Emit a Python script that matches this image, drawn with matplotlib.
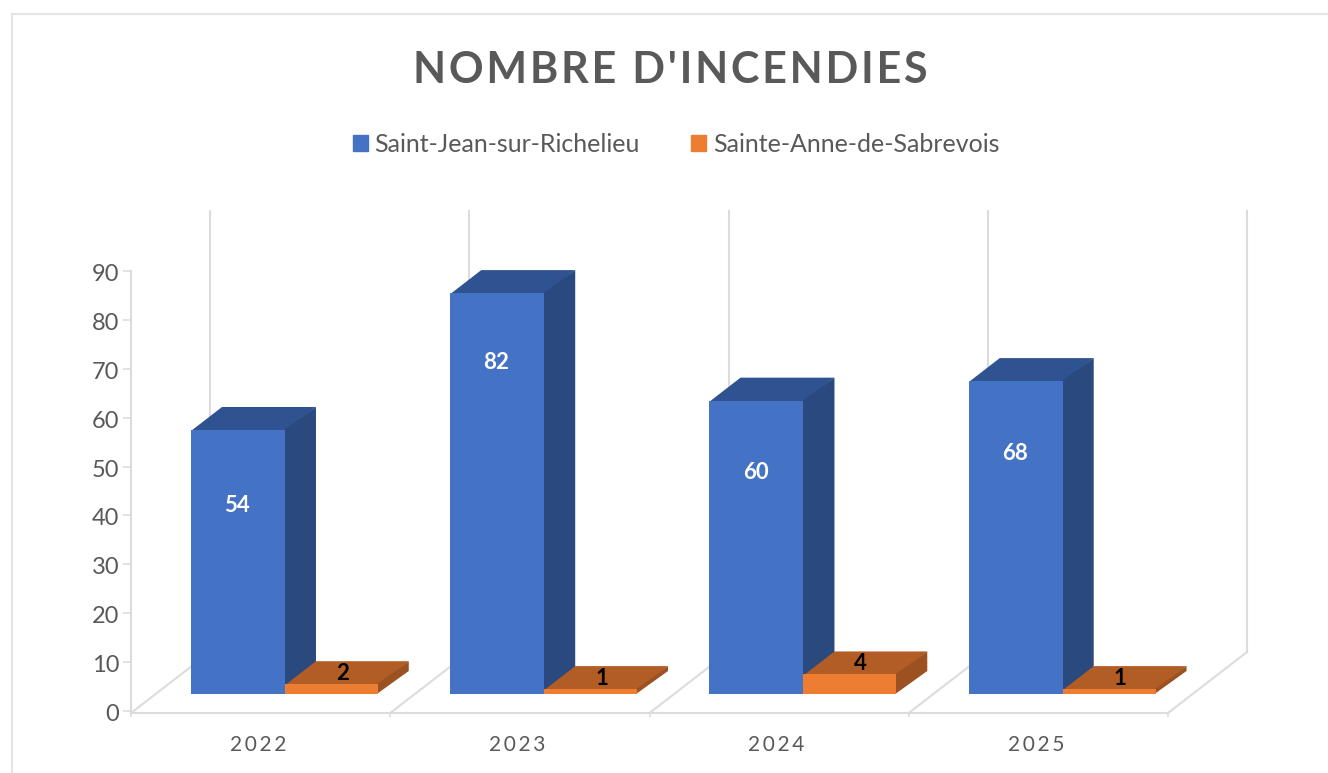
import matplotlib
matplotlib.use('Agg')
import matplotlib.pyplot as plt
from matplotlib.lines import Line2D
from matplotlib.patches import Patch, Polygon
from matplotlib.transforms import Affine2D

plt.rcParams['font.family'] = ['Lato', 'DejaVu Sans']

years = ['2022', '2023', '2024', '2025']
jean_heights = [54, 82, 60, 64]  # the 2025 bar is drawn lower than its label says
jean_labels = ['54', '82', '60', '68']
anne_values = [2, 1, 4, 1]
anne_labels = ['2', '1', '4', '1']
y_ticks = [0, 10, 20, 30, 40, 50, 60, 70, 80, 90]
series_names = ['Saint-Jean-sur-Richelieu', 'Sainte-Anne-de-Sabrevois']

W, H = 1328, 773
GRID = '#dcdcdc'
TEXT = '#595959'

fig = plt.figure(figsize=(W / 100, H / 100), dpi=100)
ax = fig.add_axes([131 / W, 1 - 711 / H, (1168 - 131) / W, (711 - 271) / H])
ax.set_xlim(0, 4)
ax.set_ylim(0, 90)
ax.patch.set_alpha(0)

# outer frame of the screenshot
fig.add_artist(Line2D([12 / W, 1], [1 - 13.5 / H, 1 - 13.5 / H], color='#e4e4e4', lw=1.6))
fig.add_artist(Line2D([12 / W, 12 / W], [0, 1 - 13.5 / H], color='#e4e4e4', lw=1.6))

BAR_W = 0.3626
ANNE_W = 0.358
BAR_OFF = 0.2313
LIFT = 17    # front face sits above the floor edge
DX, DY = 31, 23  # bar depth in pixels
FLOOR_DX, FLOOR_DY = 79, 61
label_drop = [75, 69, 72, 72]  # the labels were placed by hand in the original


def px(x, y):
    return ax.transData.transform((x, y))


def box(x, width, height, front, top, side):
    # depth faces in pixels first, the front through the axes goes over their seam
    x0, y1 = px(x, height)
    x1 = px(x + width, height)[0]
    y0 = px(x, 0)[1] + LIFT
    y1 += LIFT
    ax.add_patch(Polygon([(x0, y1 - 1), (x1, y1 - 1), (x1 + DX, y1 + DY), (x0 + DX, y1 + DY)],
                         closed=True, color=top, lw=0, transform=None, zorder=3, clip_on=False))
    ax.add_patch(Polygon([(x1 - 1, y0), (x1 + DX, y0 + DY), (x1 + DX, y1 + DY), (x1 - 1, y1)],
                         closed=True, color=side, lw=0, transform=None, zorder=3, clip_on=False))
    lift = ax.transData + Affine2D().translate(0, LIFT)
    ax.bar(x, height, width, align='edge', color=front, transform=lift, zorder=3)


# floor edges and back wall uprights
for k in range(5):
    bx, by = px(k, 0)
    by -= 2
    ax.add_line(Line2D([bx, bx + FLOOR_DX], [by, by + FLOOR_DY], color=GRID, lw=1.5,
                       transform=None, zorder=1, clip_on=False))
    ax.add_line(Line2D([bx + FLOOR_DX, bx + FLOOR_DX], [by + FLOOR_DY, H - 211], color=GRID, lw=1.5,
                       transform=None, zorder=1, clip_on=False))

for i in range(4):
    x_jean = i + BAR_OFF
    x_anne = x_jean + BAR_W
    box(x_jean, BAR_W, jean_heights[i], '#4472c4', '#2f5291', '#2a4a7f')
    box(x_anne, ANNE_W, anne_values[i], '#ed7d31', '#b25d25', '#9c5220')
    ax.annotate(jean_labels[i], (x_jean + BAR_W / 2, jean_heights[i]), xytext=(-1, LIFT - label_drop[i]),
                textcoords='offset pixels', ha='center', va='center', color='white',
                fontsize=16, fontweight='bold', zorder=5)
    ax.annotate(anne_labels[i], (x_anne + ANNE_W / 2, anne_values[i]), xytext=(11, LIFT + 11),
                textcoords='offset pixels', ha='center', va='center', color='black',
                fontsize=16, fontweight='bold', zorder=5, annotation_clip=False)

for side in ['top', 'right']:
    ax.spines[side].set_visible(False)
ax.spines['left'].set_color(GRID)
ax.spines['bottom'].set_color(GRID)
ax.spines['left'].set_linewidth(1.5)
ax.spines['bottom'].set_linewidth(1.5)
ax.spines['bottom'].set_position(('outward', 1.5))

ax.set_yticks(y_ticks)
ax.tick_params(axis='y', length=5.5, width=1.2, color=GRID, labelcolor=TEXT, labelsize=17, pad=3)
for lab in ax.get_yticklabels():
    lab.set_transform(lab.get_transform() + Affine2D().translate(0, -1.5))
ax.set_xticks(range(5))
ax.set_xticklabels([''] * 5)
ax.tick_params(axis='x', length=3, width=1.2, color=GRID)
for i, year in enumerate(years):
    ax.annotate('\u2009'.join(year), (i + 0.49, 0), xytext=(0, -34), textcoords='offset pixels',
                ha='center', va='center', color=TEXT, fontsize=15, annotation_clip=False)

fig.text(670 / W, 1 - 70 / H, '\u200a'.join("NOMBRE D'INCENDIES"), ha='center', va='center',
         color=TEXT, fontsize=31, fontweight='bold')

handles = [Patch(color='#4472c4'), Patch(color='#ed7d31')]
fig.legend(handles, series_names, loc='center', bbox_to_anchor=(676 / W, 1 - 144 / H), ncol=2,
           frameon=False, fontsize=18, labelcolor=TEXT, handlelength=0.6, handleheight=0.6,
           handletextpad=0.28, columnspacing=2.04)

fig.savefig('out.png', dpi=100)
